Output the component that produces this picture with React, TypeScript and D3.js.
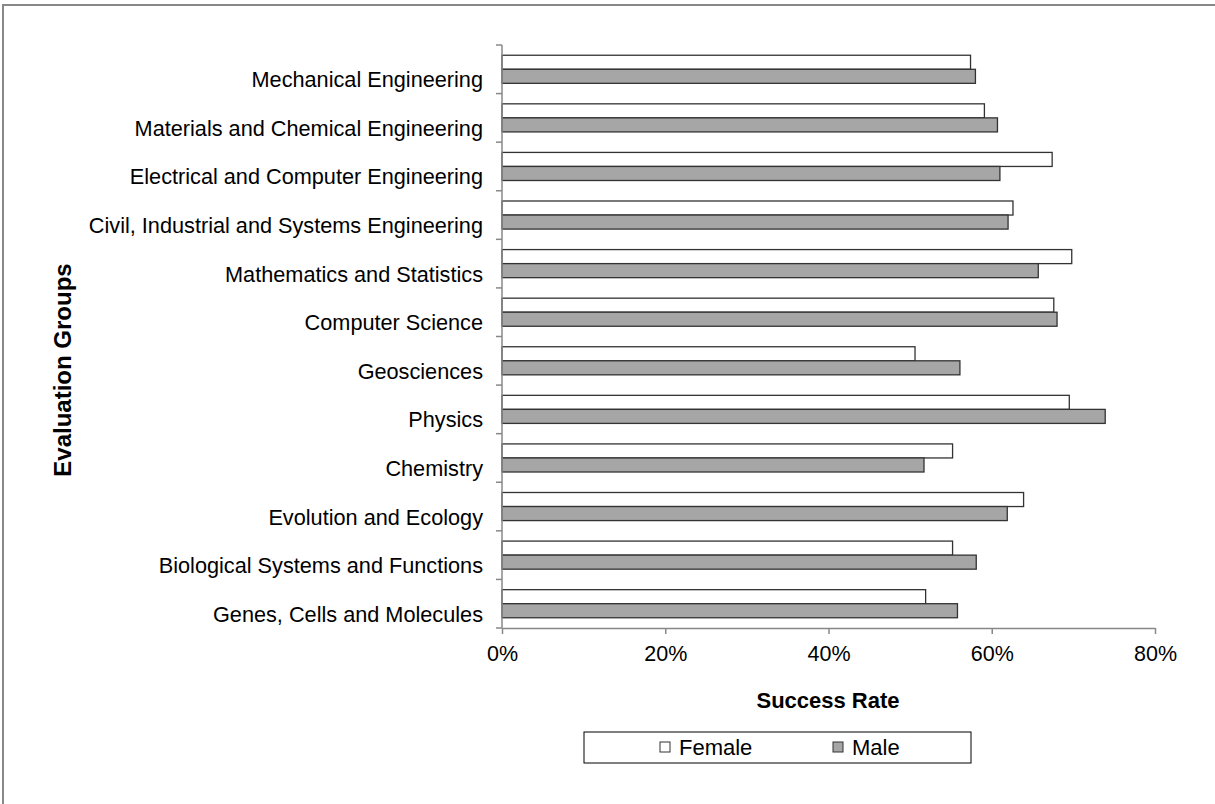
import * as d3 from "d3";
import { useEffect, useRef } from "react";

const categories = [
  "Mechanical Engineering",
  "Materials and Chemical Engineering",
  "Electrical and Computer Engineering",
  "Civil, Industrial and Systems Engineering",
  "Mathematics and Statistics",
  "Computer Science",
  "Geosciences",
  "Physics",
  "Chemistry",
  "Evolution and Ecology",
  "Biological Systems and Functions",
  "Genes, Cells and Molecules",
];

const female = [0.574, 0.591, 0.674, 0.626, 0.698, 0.676, 0.506, 0.695, 0.552, 0.639, 0.552, 0.519];
const male = [0.58, 0.607, 0.61, 0.62, 0.657, 0.68, 0.561, 0.739, 0.517, 0.619, 0.581, 0.558];

const seriesNames = ["Female", "Male"];
const seriesFill = ["#ffffff", "#a6a6a6"];
const xTicks = [0, 0.2, 0.4, 0.6, 0.8];

const width = 1215;
const height = 804;
const font = "'Liberation Sans', Arial, sans-serif";

const App = () => {
  const svgRef = useRef<SVGSVGElement | null>(null);

  useEffect(() => {
    const svg = d3.select(svgRef.current);
    svg.selectAll("*").remove();

    // outer chart border (only top/left visible in the frame)
    svg
      .append("rect")
      .attr("x", 3)
      .attr("y", 5)
      .attr("width", width + 20)
      .attr("height", height + 20)
      .attr("fill", "#fff")
      .attr("stroke", "#888")
      .attr("stroke-width", 2);

    const xScale = d3.scaleLinear().domain([0, 0.8]).range([502, 1155]);
    const yScale = d3.scaleBand().domain(categories).range([45, 628]).padding(0);
    const inner = d3
      .scaleBand()
      .domain(seriesNames)
      .range([0, yScale.bandwidth()])
      .paddingInner(0)
      .paddingOuter(0.73);

    // bars
    const values = [female, male];
    seriesNames.forEach((s, si) => {
      svg
        .append("g")
        .selectAll("rect")
        .data(categories)
        .join("rect")
        .attr("x", xScale(0))
        .attr("y", (c) => (yScale(c) as number) + (inner(s) as number))
        .attr("width", (_, i) => xScale(values[si][i]) - xScale(0))
        .attr("height", inner.bandwidth())
        .attr("fill", seriesFill[si])
        .attr("stroke", "#333")
        .attr("stroke-width", 1.3);
    });

    // x axis
    const xAxis = d3
      .axisBottom(xScale)
      .tickValues(xTicks)
      .tickFormat(d3.format(".0%"))
      .tickSize(6)
      .tickSizeOuter(0)
      .tickPadding(12);
    const gx = svg.append("g").attr("transform", "translate(0,628)").call(xAxis);
    gx.select(".domain").attr("stroke", "#888").attr("stroke-width", 1.5);
    gx.selectAll(".tick line").attr("stroke", "#888").attr("stroke-width", 1.5);
    gx.selectAll(".tick text")
      .attr("fill", "#000")
      .attr("font-family", font)
      .attr("font-size", 21.5)
      .attr("dy", "0.71em");

    // y axis: line plus ticks between categories
    const gy = svg.append("g");
    gy.append("line")
      .attr("x1", 502)
      .attr("x2", 502)
      .attr("y1", 45)
      .attr("y2", 628)
      .attr("stroke", "#888")
      .attr("stroke-width", 1.5);
    const edges = categories.map((c) => yScale(c) as number).concat([628]);
    gy.selectAll("line.tick")
      .data(edges)
      .join("line")
      .attr("class", "tick")
      .attr("x1", 496)
      .attr("x2", 502)
      .attr("y1", (d) => d)
      .attr("y2", (d) => d)
      .attr("stroke", "#888")
      .attr("stroke-width", 1.5);
    gy.selectAll("text")
      .data(categories)
      .join("text")
      .attr("x", 483)
      .attr("y", (c) => (yScale(c) as number) + yScale.bandwidth() / 2 + 18)
      .attr("text-anchor", "end")
      .attr("font-family", font)
      .attr("font-size", 21.7)
      .attr("fill", "#000")
      .text((c) => c);

    // axis titles
    svg
      .append("text")
      .attr("x", 828)
      .attr("y", 708)
      .attr("text-anchor", "middle")
      .attr("font-family", font)
      .attr("font-size", 22)
      .attr("font-weight", "bold")
      .text("Success Rate");

    svg
      .append("text")
      .attr("transform", "translate(71,370) rotate(-90)")
      .attr("text-anchor", "middle")
      .attr("font-family", font)
      .attr("font-size", 24)
      .attr("font-weight", "bold")
      .text("Evaluation Groups");

    // legend
    const lg = svg.append("g");
    lg.append("rect")
      .attr("x", 584)
      .attr("y", 732)
      .attr("width", 387)
      .attr("height", 31)
      .attr("fill", "#fff")
      .attr("stroke", "#000")
      .attr("stroke-width", 1);
    const legendX = [660, 833];
    seriesNames.forEach((s, i) => {
      lg.append("rect")
        .attr("x", legendX[i])
        .attr("y", 742)
        .attr("width", 10)
        .attr("height", 10)
        .attr("fill", seriesFill[i])
        .attr("stroke", "#333")
        .attr("stroke-width", 1);
      lg.append("text")
        .attr("x", legendX[i] + 19)
        .attr("y", 755)
        .attr("font-family", font)
        .attr("font-size", 22)
        .attr("fill", "#000")
        .text(s);
    });
  }, []);

  return (
    <svg
      ref={svgRef}
      width={width}
      height={height}
      style={{ position: "absolute", left: 0, top: 0, background: "#fff" }}
    />
  );
};

export default App;
